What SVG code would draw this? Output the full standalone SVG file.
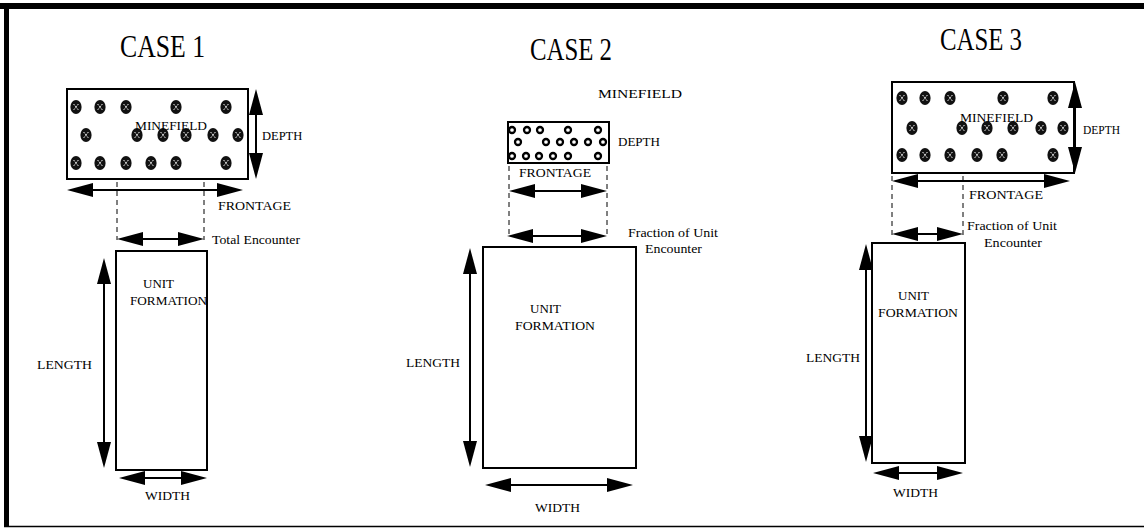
<svg xmlns="http://www.w3.org/2000/svg" width="1144" height="529" viewBox="0 0 1144 529">
<defs>
<marker id="ah" viewBox="0 0 26 14" refX="20" refY="7" markerWidth="26" markerHeight="14" markerUnits="userSpaceOnUse" orient="auto-start-reverse"><path d="M0,0 L26,7 L0,14 z" fill="#000"/></marker>
<g id="mine"><ellipse rx="5.6" ry="7" fill="#111"/><path d="M-2.4,-3 L2.4,3 M2.4,-3 L-2.4,3" stroke="#fff" stroke-width="1" stroke-dasharray="1.4 0.8"/></g>
<circle id="smine" r="3" fill="#fff" stroke="#000" stroke-width="2.3"/>
</defs>
<style>
.t{font-family:"Liberation Serif","Times New Roman",serif;fill:#000}
.title{font-size:32px}
.lbl{font-size:13px}
.sm{font-size:12.5px}
.box{fill:#fff;stroke:#000;stroke-width:2}
.arr{stroke:#000;stroke-width:2;fill:none;marker-start:url(#ah);marker-end:url(#ah)}
.dash{stroke:#000;stroke-width:1;stroke-dasharray:5 4;fill:none}
</style>
<rect width="1144" height="529" fill="#fff"/>
<g id="frame">
<rect x="0" y="3" width="1144" height="6" fill="#000"/>
<rect x="4" y="3" width="5" height="524" fill="#000"/>
<line x1="4" y1="526.5" x2="1144" y2="526.5" stroke="#000" stroke-width="1.5"/>
</g>

<!-- CASE 1 -->
<g id="case1-title"><text class="t title" x="120" y="57" textLength="85" lengthAdjust="spacingAndGlyphs">CASE 1</text></g>
<g id="case1-minefield">
<rect class="box" x="67" y="89" width="181" height="90"/>
<use href="#mine" x="76" y="107"/><use href="#mine" x="100" y="107"/><use href="#mine" x="126" y="107"/><use href="#mine" x="176" y="107"/><use href="#mine" x="226" y="107"/>
<use href="#mine" x="86" y="135"/><use href="#mine" x="137" y="135"/><use href="#mine" x="163" y="135"/><use href="#mine" x="186" y="135"/><use href="#mine" x="213" y="135"/><use href="#mine" x="238" y="135"/>
<use href="#mine" x="76" y="163"/><use href="#mine" x="100" y="163"/><use href="#mine" x="126" y="163"/><use href="#mine" x="151" y="163"/><use href="#mine" x="176" y="163"/><use href="#mine" x="226" y="163"/>
<text class="t lbl" x="135" y="130" textLength="72" lengthAdjust="spacingAndGlyphs">MINEFIELD</text>
</g>
<g id="case1-unit">
<rect class="box" x="116" y="251" width="91" height="219"/>
<text class="t lbl" x="143" y="288">UNIT</text>
<text class="t lbl" x="130" y="305" textLength="77" lengthAdjust="spacingAndGlyphs">FORMATION</text>
</g>

<!-- CASE 2 -->
<g id="case2-title"><text class="t title" x="530" y="60" textLength="82" lengthAdjust="spacingAndGlyphs">CASE 2</text></g>
<g id="case2-minefield">
<text class="t lbl" x="598" y="98" textLength="84" lengthAdjust="spacingAndGlyphs">MINEFIELD</text>
<rect class="box" x="508" y="122" width="101" height="41"/>
<use href="#smine" x="512" y="130"/><use href="#smine" x="527" y="130"/><use href="#smine" x="540" y="130"/><use href="#smine" x="568" y="130"/><use href="#smine" x="598" y="130"/>
<use href="#smine" x="518" y="142"/><use href="#smine" x="546" y="142"/><use href="#smine" x="560" y="142"/><use href="#smine" x="574" y="142"/><use href="#smine" x="588" y="142"/><use href="#smine" x="603" y="142"/>
<use href="#smine" x="512" y="156"/><use href="#smine" x="526" y="156"/><use href="#smine" x="539" y="156"/><use href="#smine" x="553" y="156"/><use href="#smine" x="568" y="156"/><use href="#smine" x="598" y="156"/>
</g>
<g id="case2-unit">
<rect class="box" x="483" y="247" width="153" height="221"/>
<text class="t lbl" x="530" y="313">UNIT</text>
<text class="t lbl" x="515" y="330" textLength="80" lengthAdjust="spacingAndGlyphs">FORMATION</text>
</g>

<!-- CASE 3 -->
<g id="case3-title"><text class="t title" x="940" y="50" textLength="82" lengthAdjust="spacingAndGlyphs">CASE 3</text></g>
<g id="case3-minefield">
<rect class="box" x="892" y="82" width="182" height="91"/>
<use href="#mine" x="902" y="98"/><use href="#mine" x="925" y="98"/><use href="#mine" x="950" y="98"/><use href="#mine" x="1003" y="98"/><use href="#mine" x="1053" y="98"/>
<use href="#mine" x="912" y="128"/><use href="#mine" x="962" y="128"/><use href="#mine" x="987" y="128"/><use href="#mine" x="1013" y="128"/><use href="#mine" x="1041" y="128"/><use href="#mine" x="1063" y="128"/>
<use href="#mine" x="902" y="155"/><use href="#mine" x="925" y="155"/><use href="#mine" x="950" y="155"/><use href="#mine" x="977" y="155"/><use href="#mine" x="1002" y="155"/><use href="#mine" x="1053" y="155"/>
<text class="t lbl" x="960" y="122" textLength="73" lengthAdjust="spacingAndGlyphs">MINEFIELD</text>
</g>
<g id="case3-unit">
<rect class="box" x="872" y="243" width="93" height="220"/>
<text class="t lbl" x="898" y="300">UNIT</text>
<text class="t lbl" x="878" y="317" textLength="80" lengthAdjust="spacingAndGlyphs">FORMATION</text>
</g>

<g id="connectors">
<!-- case 1 -->
<line class="dash" x1="117" y1="182" x2="117" y2="240"/>
<line class="dash" x1="204" y1="182" x2="204" y2="240"/>
<line class="arr" x1="256" y1="95" x2="256" y2="173"/>
<line class="arr" x1="73" y1="190" x2="237" y2="190"/>
<line class="arr" x1="123" y1="239" x2="198" y2="239"/>
<line class="arr" x1="104" y1="264" x2="104" y2="462"/>
<line class="arr" x1="125" y1="478" x2="201" y2="478"/>
<!-- case 2 -->
<line class="dash" x1="509" y1="166" x2="509" y2="237"/>
<line class="dash" x1="607" y1="166" x2="607" y2="237"/>
<line class="arr" x1="515" y1="191" x2="601" y2="191"/>
<line class="arr" x1="513" y1="236" x2="601" y2="236"/>
<line class="arr" x1="470" y1="254" x2="470" y2="461"/>
<line class="arr" x1="491" y1="485" x2="627" y2="485"/>
<!-- case 3 -->
<line class="dash" x1="892" y1="176" x2="892" y2="235"/>
<line class="dash" x1="963" y1="176" x2="963" y2="235"/>
<line class="arr" x1="1075" y1="88" x2="1075" y2="167"/>
<line class="arr" x1="898" y1="181" x2="1064" y2="181"/>
<line class="arr" x1="898" y1="234" x2="957" y2="234"/>
<line class="arr" x1="866" y1="250" x2="866" y2="456"/>
<line class="arr" x1="879" y1="473" x2="957" y2="473"/>
</g>

<g id="labels">
<text class="t sm" x="262" y="140">DEPTH</text>
<text class="t lbl" x="218" y="210" textLength="73" lengthAdjust="spacingAndGlyphs">FRONTAGE</text>
<text class="t sm" x="212" y="244" textLength="88" lengthAdjust="spacingAndGlyphs">Total  Encounter</text>
<text class="t lbl" x="37" y="369" textLength="55" lengthAdjust="spacingAndGlyphs">LENGTH</text>
<text class="t lbl" x="145" y="500" textLength="45" lengthAdjust="spacingAndGlyphs">WIDTH</text>

<text class="t lbl" x="618" y="146" textLength="42" lengthAdjust="spacingAndGlyphs">DEPTH</text>
<text class="t lbl" x="519" y="177" textLength="72" lengthAdjust="spacingAndGlyphs">FRONTAGE</text>
<text class="t sm" x="628" y="237" textLength="90" lengthAdjust="spacingAndGlyphs">Fraction of Unit</text>
<text class="t sm" x="645" y="253" textLength="57" lengthAdjust="spacingAndGlyphs">Encounter</text>
<text class="t lbl" x="406" y="367" textLength="54" lengthAdjust="spacingAndGlyphs">LENGTH</text>
<text class="t lbl" x="535" y="512" textLength="45" lengthAdjust="spacingAndGlyphs">WIDTH</text>

<text class="t sm" x="1083" y="134" textLength="37" lengthAdjust="spacingAndGlyphs">DEPTH</text>
<text class="t lbl" x="969" y="199" textLength="74" lengthAdjust="spacingAndGlyphs">FRONTAGE</text>
<text class="t sm" x="967" y="230" textLength="90" lengthAdjust="spacingAndGlyphs">Fraction of Unit</text>
<text class="t sm" x="984" y="247" textLength="58" lengthAdjust="spacingAndGlyphs">Encounter</text>
<text class="t lbl" x="806" y="362" textLength="54" lengthAdjust="spacingAndGlyphs">LENGTH</text>
<text class="t lbl" x="893" y="497" textLength="45" lengthAdjust="spacingAndGlyphs">WIDTH</text>
</g>
</svg>
